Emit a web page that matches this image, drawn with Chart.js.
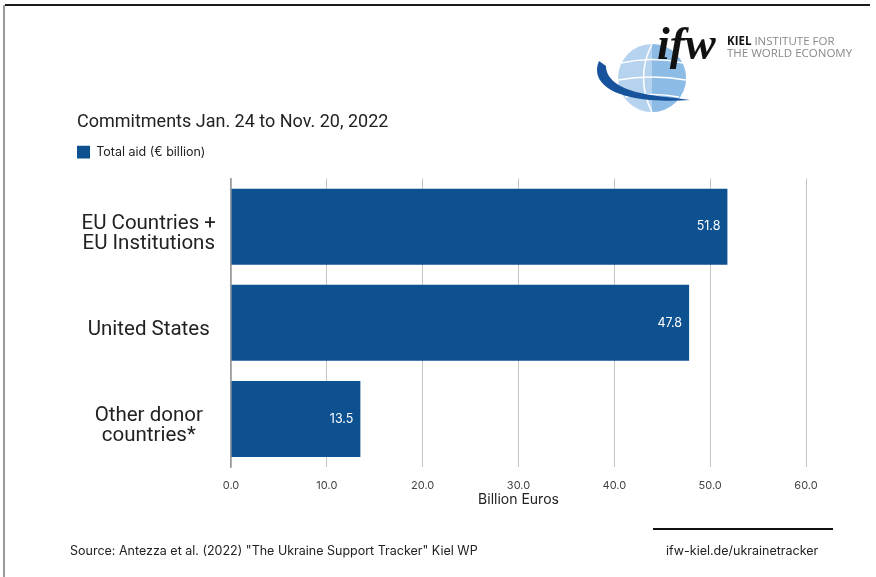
<!DOCTYPE html>
<html>
<head>
<meta charset="utf-8">
<script src="https://cdn.jsdelivr.net/npm/chart.js@4.4.1/dist/chart.umd.min.js"></script>
<style>
  html, body { margin: 0; padding: 0; background: #fff; }
  body { width: 876px; height: 577px; position: relative; overflow: hidden; font-family: Inter, "Noto Sans", sans-serif; }
  #wrap { position: absolute; left: 0; top: 0; width: 876px; height: 577px; }
  .frameL { position: absolute; left: 3px; top: 5px; width: 2px; height: 572px; background: #9a9a9a; }
  .frameT { position: absolute; left: 5px; top: 4px; width: 865px; height: 2px; background: #1a1a1a; }
  .src { position: absolute; left: 70px; top: 543px; font-size: 12.5px; color: #222; }
  .url { position: absolute; left: 666px; top: 543px; font-size: 12.5px; color: #222; }
  .rule { position: absolute; left: 653px; top: 528px; width: 180px; height: 2px; background: #111; }
  #logo { position: absolute; left: 590px; top: 18px; width: 280px; height: 100px; }
</style>
</head>
<body>
<div class="frameL"></div>
<div class="frameT"></div>
<div id="wrap"><canvas id="c"></canvas></div>
<svg id="logo" viewBox="590 18 280 100" xmlns="http://www.w3.org/2000/svg">
  <circle cx="652" cy="78" r="34" fill="#b5d2ee"/>
  <path d="M652,44 A34,34 0 0 1 652,112 Z" fill="#8cbbe6"/>
  <path d="M621,63 Q652,56 683,63" stroke="#fff" stroke-width="1.5" fill="none"/>
  <path d="M618,80 Q652,74 686,80" stroke="#fff" stroke-width="1.5" fill="none"/>
  <path d="M625,97 Q652,92 679,97" stroke="#fff" stroke-width="1.5" fill="none"/>
  <path d="M652,44 Q635,78 652,112" stroke="#fff" stroke-width="1.5" fill="none"/>
  <path d="M599,61 C590,82 612,97 650,100 C665,101 678,101 690,100 C670,97 650,96 636,92 C614,86 606,76 606,66 Z" fill="#17539c"/>
  <text x="657" y="59" font-family="Liberation Serif, DejaVu Serif, serif" font-style="italic" font-weight="bold" font-size="46" fill="#111">ifw</text>
  <text x="727" y="45" font-family="Open Sans, Liberation Sans, sans-serif" font-size="11.5" fill="#8a8a8a"><tspan font-weight="bold" fill="#111">KIEL</tspan> INSTITUTE FOR</text>
  <text x="727" y="57" font-family="Open Sans, Liberation Sans, sans-serif" font-size="11.5" fill="#8a8a8a">THE WORLD ECONOMY</text>
</svg>
<div class="rule"></div>
<div class="src">Source: Antezza et al. (2022) "The Ukraine Support Tracker" Kiel WP</div>
<div class="url">ifw-kiel.de/ukrainetracker</div>
<script>
const categories = [["EU Countries +", "EU Institutions"], "United States", ["Other donor", "countries*"]];
const totalAid = [51.8, 47.8, 13.5];
const xTicks = [0, 10, 20, 30, 40, 50, 60];
const chartTitle = "Commitments Jan. 24 to Nov. 20, 2022";
const seriesName = "Total aid (€ billion)";
const axisTitle = "Billion Euros";

const valueLabels = {
  id: 'valueLabels',
  afterDatasetsDraw(chart) {
    const ctx = chart.ctx;
    const meta = chart.getDatasetMeta(0);
    ctx.save();
    ctx.font = '400 12.5px Inter, sans-serif';
    ctx.fillStyle = '#ffffff';
    ctx.textAlign = 'right';
    ctx.textBaseline = 'middle';
    meta.data.forEach((bar, i) => {
      const v = chart.data.datasets[0].data[i];
      ctx.fillText(v.toFixed(1), bar.x - 7, bar.y);
    });
    ctx.restore();
  }
};

const legendGap = {
  id: 'legendGap',
  beforeLayout(chart) {
    const lg = chart.legend;
    if (lg && !lg._gapPatched) {
      const orig = lg.fit;
      lg.fit = function () { orig.call(this); this.height += 10; };
      lg._gapPatched = true;
    }
  }
};

new Chart(document.getElementById('c'), {
  type: 'bar',
  data: {
    labels: categories,
    datasets: [{
      label: seriesName,
      data: totalAid,
      backgroundColor: '#0d5190',
      borderWidth: 0,
      categoryPercentage: 1.0,
      barPercentage: 0.79
    }]
  },
  options: {
    indexAxis: 'y',
    responsive: true,
    maintainAspectRatio: false,
    animation: false,
    layout: { padding: { left: 77, right: 70, top: 112, bottom: 69 } },
    plugins: {
      title: {
        display: true, text: chartTitle, align: 'start', color: '#222',
        font: { family: 'Roboto', size: 18, weight: '400' }, padding: { top: 0, bottom: 12 }
      },
      legend: {
        display: true, align: 'start',
        labels: {
          boxWidth: 13, boxHeight: 13, padding: 0, color: '#222',
          font: { family: 'Inter', size: 12.5 }
        }
      },
      tooltip: { enabled: false }
    },
    scales: {
      x: {
        type: 'linear', min: 0, max: 60,
        afterBuildTicks: (s) => { s.ticks = xTicks.map(v => ({ value: v })); },
        ticks: { callback: (v) => Number(v).toFixed(1), color: '#444', padding: 12.5,
                 font: { family: 'Inter', size: 11 } },
        grid: { color: '#c4c4c4', lineWidth: 1, drawTicks: false },
        border: { display: false },
        title: { display: true, text: axisTitle, color: '#222', padding: { top: -14, bottom: 0 },
                 font: { family: 'Inter', size: 14 } }
      },
      y: {
        afterFit: (s) => { s.width = 154; },
        ticks: { crossAlign: 'center', padding: 7, labelOffset: 7, color: '#222',
                 font: { family: 'Roboto', size: 20.5, lineHeight: 0.98 } },
        grid: { display: false },
        border: { display: true, color: '#9a9a9a', width: 1.5 }
      }
    }
  },
  plugins: [valueLabels, legendGap]
});
</script>
</body>
</html>
